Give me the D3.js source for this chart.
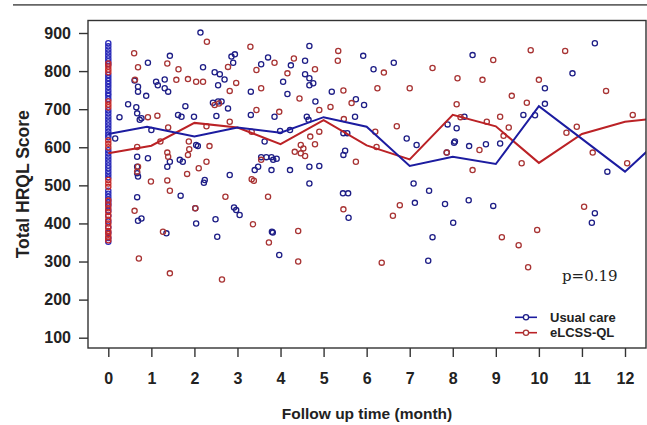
<!DOCTYPE html>
<html>
<head>
<meta charset="utf-8">
<script src="https://cdn.jsdelivr.net/npm/d3@7"></script>
<style>
  html, body { margin: 0; padding: 0; background: #fff; }
  svg { display: block; }
</style>
</head>
<body>
<svg id="chart" width="647" height="425"></svg>
<script>
// ---------- DATA ----------
const seriesNames = ["Usual care", "eLCSS-QL"];
const xTicks = [0,1,2,3,4,5,6,7,8,9,10,11,12];
const yTicks = [100,200,300,400,500,600,700,800,900];

// mean lines (month, score)
const usualLineMonths = [0, 0.9, 2, 3, 4, 5, 6, 7, 8, 9, 10, 11, 12, 12.5];
const usualLineValues = [635, 654, 628, 652, 638, 679, 654, 551, 575, 556, 708, 622, 536, 588];
const elcssLineMonths = [0, 1, 2, 3, 4, 5, 6, 7, 8, 9, 10, 11, 12, 12.5];
const elcssLineValues = [584, 604, 664, 652, 608, 671, 605, 568, 685, 655, 559, 635, 667, 673];

// baseline (month 0) scores
const usualBaseline = [873,865,857,849,841,833,826,818,790,782,774,766,758,750,742,735,727,697,689,681,673,665,657,649,641,633,626,592,584,576,568,560,552,545,537,529,521,486,478,470,463,455,447,434,420,405,390,376,362,352];
const elcssBaseline = [820,812,804,797,720,712,705,618,609,600,514,505,496,460,450,440,430,420,410,400,390,380,372,364,356];

// follow-up observations: months and scores
const usualMonths = [2.14,0.92,1.43,2.20,2.94,2.86,2.90,3.71,3.55,2.47,2.59,2.70,2.55,3.31,0.61,0.69,0.69,0.88,1.11,1.15,1.31,1.31,1.39,0.46,0.65,0.67,0.77,0.73,0.26,0.16,1.00,1.62,1.70,1.79,1.99,2.43,2.55,2.63,2.51,2.78,3.31,3.86,3.63,0.67,0.92,0.67,0.67,0.69,1.37,1.43,1.66,1.73,2.04,2.08,2.82,2.24,3.40,3.48,3.55,3.67,3.79,3.79,
  4.67,5.92,6.63,6.16,4.57,4.24,4.57,4.67,4.76,4.67,4.06,4.16,5.19,4.81,5.75,5.94,5.73,4.61,4.65,3.99,4.22,5.46,5.55,6.93,7.16,8.09,8.05,7.86,5.46,5.50,3.83,3.91,4.22,4.67,4.90,4.67,7.09,
  8.46,11.30,10.78,10.14,10.14,9.64,9.91,8.27,7.88,8.03,8.38,8.77,9.10,11.59,11.30,11.23,5.45,5.57,5.58,7.45,7.12,7.82,8.37,8.94,8.01,7.53,7.43,3.82,3.97,
  2.22,0.67,1.68,0.69,0.77,2.02,2.04,1.35,2.49,2.53,2.92,2.97,3.05,3.80];
const usualScores = [901,822,840,810,844,838,822,836,818,797,792,778,763,746,775,759,746,735,772,763,778,755,746,713,705,689,676,672,679,623,645,685,680,708,680,717,720,720,682,702,685,680,615,575,571,549,532,523,549,562,567,562,606,603,527,514,540,549,574,574,574,540,
  866,840,822,805,827,815,792,781,768,763,772,740,746,720,726,711,680,680,672,643,645,637,637,623,606,650,615,586,580,591,567,570,540,549,551,505,505,
  842,873,794,755,714,685,684,680,660,612,603,608,610,536,427,402,479,479,415,486,454,451,461,446,402,364,302,376,317,
  507,469,473,407,413,440,400,374,411,365,442,435,422,378];

const elcssMonths = [2.29,3.30,0.60,0.69,1.37,1.63,2.78,3.44,3.86,0.62,1.58,1.85,2.04,2.20,2.97,2.82,3.55,2.47,2.57,3.44,0.92,1.14,1.39,2.28,2.82,3.33,0.67,1.21,1.87,2.35,1.37,1.39,0.69,0.67,1.85,1.88,2.28,2.10,3.55,3.33,0.99,1.83,1.37,
  5.34,5.33,4.31,4.16,4.80,6.40,7.53,8.11,6.25,7.00,5.46,4.44,3.97,4.90,5.16,5.65,8.09,5.47,6.20,6.70,4.69,4.90,6.23,4.80,4.47,4.53,4.47,4.57,4.33,5.75,7.86,
  9.81,10.61,8.94,8.69,10.00,11.56,9.37,9.72,12.18,9.10,8.79,9.30,9.18,8.62,10.64,10.88,11.25,12.05,9.60,8.46,5.46,6.77,6.61,11.05,8.18,
  4.41,4.41,6.35,9.14,9.53,9.96,9.75,3.73,
  1.43,2.72,3.71,3.38,0.61,2.02,1.27,3.36,0.71,1.43,2.64];
const elcssScores = [877,864,847,810,820,805,811,803,822,777,777,779,772,772,769,748,755,711,715,698,679,683,652,655,667,641,601,615,615,603,586,575,549,536,580,595,562,545,567,516,510,530,513,
  853,827,833,794,805,796,808,781,755,755,749,728,693,698,706,716,713,674,641,655,628,641,601,608,606,597,584,577,588,562,586,
  855,853,829,777,777,748,735,717,685,680,667,652,630,593,638,654,586,558,558,540,437,448,420,444,679,
  380,300,297,364,343,383,285,350,
  486,470,470,512,433,440,378,398,308,269,253];

// ---------- LAYOUT ----------
const svg = d3.select("#chart");
const box = {left: 88, right: 646, top: 20.5, bottom: 348};
const x = d3.scaleLinear().domain([0, 12]).range([108.3, 625]);
const y = d3.scaleLinear().domain([100, 900]).range([337.7, 33]);

const colUsualPt = "#1e1e86";
const colElcssPt = "#a83434";
const colUsualLine = "#1c1ca0";
const colElcssLine = "#bb2226";
const sansFont = "'Liberation Sans', Arial, sans-serif";

// top rule
svg.append("line").attr("x1", 13).attr("x2", 647).attr("y1", 4.8).attr("y2", 4.8)
  .attr("stroke", "#666").attr("stroke-width", 1.8);

svg.append("defs").append("clipPath").attr("id", "clip")
  .append("rect").attr("x", box.left).attr("y", box.top)
  .attr("width", box.right - box.left).attr("height", box.bottom - box.top);

const plot = svg.append("g").attr("clip-path", "url(#clip)");

function drawPoints(ms, vs, color) {
  plot.append("g").selectAll("circle").data(ms.map((m, i) => [m, vs[i]])).join("circle")
    .attr("cx", d => x(d[0])).attr("cy", d => y(d[1])).attr("r", 2.6)
    .attr("fill", "none").attr("stroke", color).attr("stroke-width", 1.3);
}
drawPoints(usualBaseline.map(() => 0), usualBaseline, "#2a2ab8");
drawPoints(elcssBaseline.map(() => 0), elcssBaseline, "#c42a2a");
drawPoints(usualMonths, usualScores, colUsualPt);
drawPoints(elcssMonths, elcssScores, colElcssPt);

const line = d3.line().x(d => x(d[0])).y(d => y(d[1]));
plot.append("path").datum(elcssLineMonths.map((m, i) => [m, elcssLineValues[i]]))
  .attr("d", line).attr("fill", "none").attr("stroke", colElcssLine).attr("stroke-width", 2);
plot.append("path").datum(usualLineMonths.map((m, i) => [m, usualLineValues[i]]))
  .attr("d", line).attr("fill", "none").attr("stroke", colUsualLine).attr("stroke-width", 2);

// box
svg.append("rect").attr("x", box.left).attr("y", box.top)
  .attr("width", box.right - box.left).attr("height", box.bottom - box.top)
  .attr("fill", "none").attr("stroke", "#333").attr("stroke-width", 1.4);

// axes
const yAxis = svg.append("g").attr("transform", `translate(${box.left},0)`)
  .call(d3.axisLeft(y).tickValues(yTicks).tickSize(9).tickPadding(8).tickSizeOuter(0));
const xAxis = svg.append("g").attr("transform", `translate(0,${box.bottom})`)
  .call(d3.axisBottom(x).tickValues(xTicks).tickSize(9).tickPadding(15.5).tickSizeOuter(0));
[yAxis, xAxis].forEach(a => {
  a.select(".domain").remove();
  a.selectAll(".tick line").attr("stroke", "#333").attr("stroke-width", 1.4);
  a.selectAll(".tick text").attr("fill", "#222").style("font-family", sansFont)
    .style("font-size", "16px").style("font-weight", "bold");
});

// titles
svg.append("text").attr("x", (box.left + box.right) / 2).attr("y", 419)
  .attr("text-anchor", "middle").attr("fill", "#222")
  .style("font-family", sansFont).style("font-size", "15.5px").style("font-weight", "bold")
  .text("Follow up time (month)");
svg.append("text").attr("transform", `translate(29,${(box.top + box.bottom) / 2}) rotate(-90)`)
  .attr("text-anchor", "middle").attr("fill", "#222")
  .style("font-family", sansFont).style("font-size", "17.5px").style("font-weight", "bold")
  .text("Total HRQL Score");

// p-value
svg.append("text").attr("x", 562).attr("y", 281).attr("fill", "#222")
  .style("font-family", "'DejaVu Serif', serif").style("font-size", "15px")
  .text("p=0.19");

// legend
const legendY = [317.3, 332.7];
const legendCols = [[colUsualLine, colUsualPt], [colElcssLine, colElcssPt]];
const lg = svg.append("g");
seriesNames.forEach((name, i) => {
  lg.append("line").attr("x1", 515).attr("x2", 537).attr("y1", legendY[i]).attr("y2", legendY[i])
    .attr("stroke", legendCols[i][0]).attr("stroke-width", 1.6);
  lg.append("circle").attr("cx", 526).attr("cy", legendY[i]).attr("r", 2.6)
    .attr("fill", "#fff").attr("stroke", legendCols[i][1]).attr("stroke-width", 1.3);
  lg.append("text").attr("x", 550).attr("y", legendY[i]).attr("dy", "0.36em").attr("fill", "#222")
    .style("font-family", sansFont).style("font-size", "13px").style("font-weight", "bold")
    .text(name);
});
</script>
</body>
</html>
